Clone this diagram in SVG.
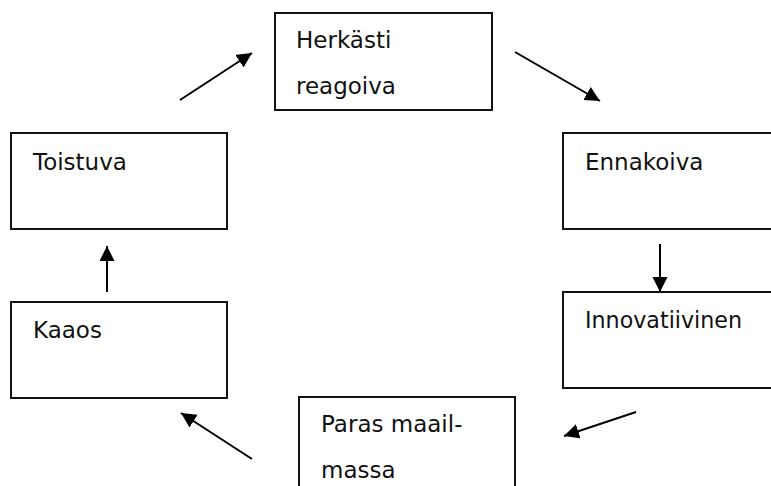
<svg xmlns="http://www.w3.org/2000/svg" width="771" height="486" viewBox="0 0 771 486">
  <style>
    .box { fill: #ffffff; stroke: #111111; stroke-width: 2; }
    .label { font-family: "DejaVu Sans", Verdana, sans-serif; font-size: 23px; fill: #111111; }
    .conn { stroke: #000000; stroke-width: 2; fill: none; marker-end: url(#head); }
  </style>
  <defs>
    <marker id="head" markerUnits="userSpaceOnUse" markerWidth="16" markerHeight="16" refX="15" refY="7.5" orient="auto">
      <path d="M0,0 L15,7.5 L0,15 Z" fill="#000000"/>
    </marker>
  </defs>
  <rect width="771" height="486" fill="#ffffff"/>

  <g id="node-herkasti">
    <rect class="box" x="275" y="13" width="217" height="97"/>
    <text class="label" x="296" y="48">Herkästi</text>
    <text class="label" x="296" y="94">reagoiva</text>
  </g>
  <g id="node-ennakoiva">
    <rect class="box" x="563" y="133" width="220" height="96"/>
    <text class="label" x="585" y="170">Ennakoiva</text>
  </g>
  <g id="node-innovatiivinen">
    <rect class="box" x="563" y="292" width="220" height="96"/>
    <text class="label" x="585" y="328" textLength="157" lengthAdjust="spacingAndGlyphs">Innovatiivinen</text>
  </g>
  <g id="node-paras">
    <rect class="box" x="299" y="397" width="216" height="100"/>
    <text class="label" x="321" y="432">Paras maail-</text>
    <text class="label" x="321" y="478">massa</text>
  </g>
  <g id="node-kaaos">
    <rect class="box" x="11" y="302" width="216" height="96"/>
    <text class="label" x="33" y="338">Kaaos</text>
  </g>
  <g id="node-toistuva">
    <rect class="box" x="11" y="133" width="216" height="96"/>
    <text class="label" x="33" y="170">Toistuva</text>
  </g>

  <g id="connectors">
    <line class="conn" x1="107" y1="292" x2="107" y2="246"/>
    <line class="conn" x1="180" y1="100" x2="252" y2="53"/>
    <line class="conn" x1="515" y1="52" x2="600" y2="101"/>
    <line class="conn" x1="660" y1="244" x2="660" y2="292"/>
    <line class="conn" x1="636" y1="412" x2="564" y2="436"/>
    <line class="conn" x1="252" y1="459" x2="181" y2="413"/>
  </g>
</svg>
